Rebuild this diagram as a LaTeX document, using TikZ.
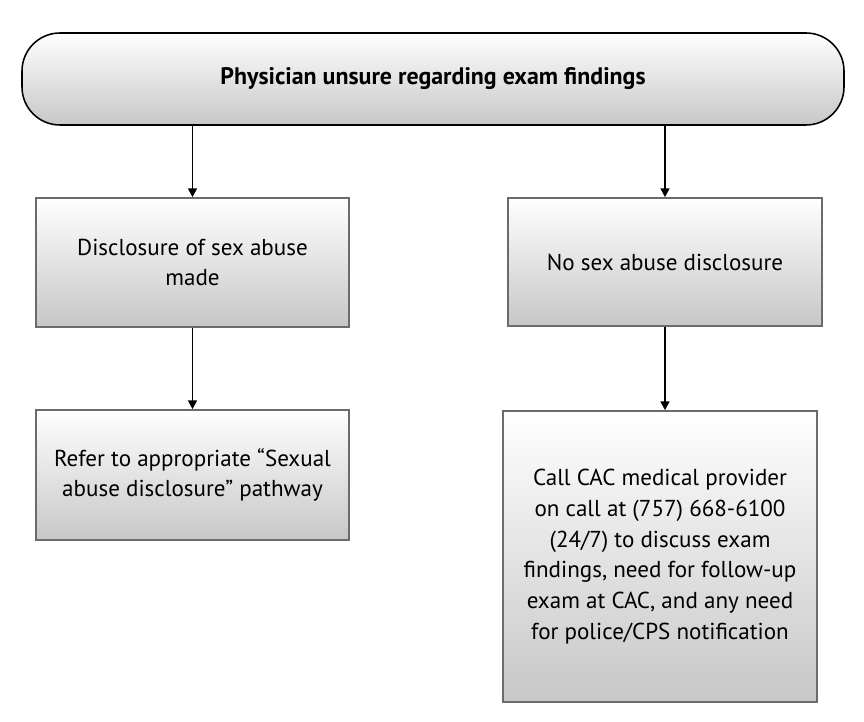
\documentclass[tikz,border=0pt]{standalone}
\usepackage{fontspec}
\setmainfont{PT Sans}
\usetikzlibrary{arrows.meta}
\tikzset{
    box/.style={draw=black!58, line width=1.1pt, top color=white,
                bottom color=black!22, align=center, inner sep=4pt,
                font=\fontsize{16.4}{21.8}\selectfont},
    start/.style={box, draw=black, rounded corners=0.95cm,
                  font=\fontsize{17}{21.8}\selectfont\bfseries},
    flow/.style={-{Triangle[length=0.22cm, width=0.22cm]}, line width=1.25pt},
}

\begin{document}
\begin{tikzpicture}
    \useasboundingbox (0,0) rectangle (21.6,18.05);
    \node[start, minimum width=20.55cm, minimum height=2.3cm] (unsure)
        at (10.825, 16.075) {Physician unsure regarding exam findings};
    \node[box, minimum width=7.825cm, minimum height=3.225cm] (disclosed)
        at (4.8125, 11.4875) {Disclosure of sex abuse\\made};
    \node[box, minimum width=7.85cm, minimum height=3.2cm] (nodisclosure)
        at (16.625, 11.5) {No sex abuse disclosure};
    \node[box, minimum width=7.825cm, minimum height=3.25cm] (refer)
        at (4.8125, 6.175) {Refer to appropriate ``Sexual\\abuse disclosure'' pathway};
    \node[box, minimum width=7.85cm, minimum height=7.275cm] (callcac)
        at (16.5, 4.1375) {Call CAC medical provider\\on call at (757) 668-6100\\(24/7) to discuss exam\\findings, need for follow-up\\exam at CAC, and any need\\for police/CPS notification};

    \draw[flow] (disclosed.north |- unsure.south) -- (disclosed.north);
    \draw[flow] (nodisclosure.north |- unsure.south) -- (nodisclosure.north);
    \draw[flow] (disclosed.south) -- (disclosed.south |- refer.north);
    \draw[flow] (nodisclosure.south) -- (nodisclosure.south |- callcac.north);
\end{tikzpicture}
\end{document}
